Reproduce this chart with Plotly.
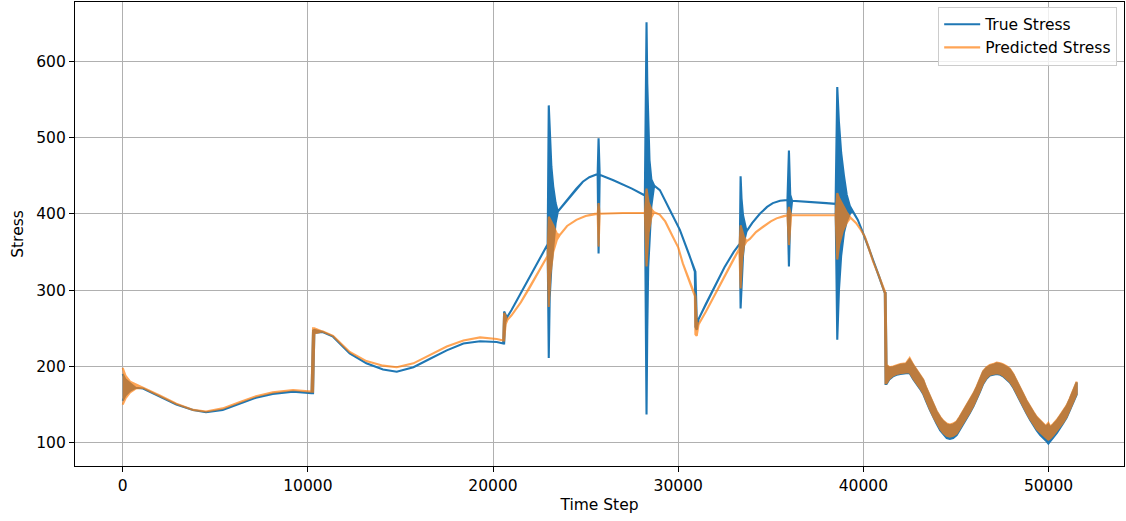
import plotly.graph_objects as go

# ---------------- data ----------------
# True stress: time step, lower envelope, upper envelope (equal where the line is a single trace)
true_step = [0, 150, 400, 700, 1100, 2000, 2900, 3800, 4500, 5400, 6300, 7200, 8100, 9200, 10200,
             10280, 10350, 10800, 11360, 12260, 13160, 14060, 14800, 15700, 16600, 17500, 18400, 19300,
             20200, 20550, 20600, 20660, 20750, 21000, 21500, 22000, 22500, 22950, 23010, 23060, 23150,
             23250, 23380, 23500, 23800, 24150, 24500, 24850, 25200, 25650, 25700, 25760, 26500, 27500,
             28200, 28290, 28330, 28380, 28450, 28550, 28700, 29010, 29300, 29550, 30090, 30630, 30900,
             30930, 31000, 31100, 31500, 32000, 32500, 33000, 33330, 33370, 33420, 33500, 33600, 33690,
             34000, 34410, 34800, 35110, 35500, 35900, 35980, 36050, 36150, 37000, 38000, 38500, 38590,
             38680, 38800, 38950, 39100, 39270, 39400, 39700, 39980, 40250, 40520, 40850, 41160, 41200,
             41250, 41400, 41600, 41800, 42000, 42300, 42500, 42700, 42870, 43050, 43230, 43400, 43590,
             43800, 43950, 44150, 44310, 44500, 44670, 44850, 45040, 45200, 45380, 45550, 45750, 45950,
             46110, 46300, 46470, 46650, 46830, 47000, 47200, 47400, 47540, 47750, 47910, 48100, 48280,
             48450, 48640, 48800, 49000, 49200, 49360, 49550, 49720, 49850, 49990, 50100, 50260, 50450,
             50620, 50800, 50980, 51150, 51340, 51450, 51520]
true_low = [155, 162, 168, 172, 171, 161, 150, 143, 140, 143, 151, 159, 164, 167, 165,
            165, 244, 245, 239, 217, 204, 196, 193, 199, 210, 221, 230, 233,
            232, 230, 230, 258, 264, 274, 296, 317, 340, 360, 211, 290, 330,
            360, 388, 403, 412, 422, 433, 442, 448, 452, 348, 451, 444, 433,
            424, 137, 248, 330, 362, 410, 437, 431, 418, 405, 379, 344, 324,
            252, 248, 262, 282, 305, 330, 350, 361, 276, 300, 345, 368, 377,
            388, 400, 409, 414, 417, 418, 331, 395, 417, 416, 414, 413, 235,
            300, 345, 375, 390, 400, 404, 392, 375, 358, 340, 318, 296, 177,
            177, 183, 187, 189, 190, 191, 191, 183, 177, 171, 164, 154, 143,
            132, 125, 116, 111, 106, 105, 106, 110, 116, 124, 131, 139, 148,
            156, 167, 177, 184, 188, 189, 190, 189, 187, 183, 179, 172, 164,
            156, 147, 139, 130, 122, 116, 110, 106, 103, 99, 102, 107, 113,
            119, 126, 133, 141, 152, 159, 163]
true_high = [190, 183, 178, 172, 171, 161, 150, 143, 140, 143, 151, 159, 164, 167, 165,
             247, 248, 245, 239, 217, 204, 196, 193, 199, 210, 221, 230, 233,
             232, 230, 272, 268, 264, 274, 296, 317, 340, 360, 542, 510, 462,
             436, 414, 403, 412, 422, 433, 442, 448, 452, 499, 451, 444, 433,
             424, 651, 571, 519, 470, 445, 437, 431, 418, 405, 379, 344, 324,
             324, 262, 262, 282, 305, 330, 350, 361, 449, 420, 398, 385, 377,
             388, 400, 409, 414, 417, 418, 483, 425, 417, 416, 414, 413, 566,
             520, 480, 450, 425, 410, 404, 392, 375, 358, 340, 318, 296, 296,
             201, 198, 199, 201, 202, 203, 209, 201, 195, 189, 182, 171, 160,
             149, 141, 133, 128, 124, 123, 124, 127, 133, 140, 147, 155, 164,
             172, 183, 193, 198, 201, 202, 204, 203, 202, 199, 196, 189, 181,
             172, 163, 155, 146, 139, 133, 128, 124, 121, 124, 120, 124, 129,
             135, 141, 148, 157, 168, 176, 179]

# Predicted stress: time step, lower envelope, upper envelope
pred_step = [0, 150, 400, 700, 1100, 2000, 2900, 3800, 4500, 5400, 6300, 7200, 8100, 9200, 10200,
             10280, 10350, 10800, 11360, 12260, 13160, 14060, 14800, 15700, 16600, 17500, 18400, 19300,
             20200, 20550, 20600, 20680, 20780, 21000, 21500, 22000, 22500, 22950, 23010, 23100, 23250,
             23450, 23600, 24000, 24500, 25000, 25500, 25650, 25700, 25760, 27000, 28200, 28290, 28400,
             28550, 28700, 29000, 29300, 29710, 30000, 30250, 30550, 30790, 30900, 30930, 31000, 31100,
             31500, 32000, 32250, 32500, 32790, 33000, 33300, 33370, 33450, 33550, 33700, 33870, 34200,
             34570, 35000, 35310, 35700, 35900, 35980, 36100, 38500, 38590, 38700, 38900, 39100, 39300,
             39600, 39810, 40080, 40300, 40520, 40850, 41160, 41200,
             41250, 41400, 41600, 41800, 42000, 42300, 42500, 42700, 42870, 43050, 43230, 43400, 43590,
             43800, 43950, 44150, 44310, 44500, 44670, 44850, 45040, 45200, 45380, 45550, 45750, 45950,
             46110, 46300, 46470, 46650, 46830, 47000, 47200, 47400, 47540, 47750, 47910, 48100, 48280,
             48450, 48640, 48800, 49000, 49200, 49360, 49550, 49720, 49850, 49990, 50100, 50260, 50450,
             50620, 50800, 50980, 51150, 51340, 51450, 51520]
pred_low = [150, 158, 166, 171, 172, 162, 151, 143, 141, 145, 153, 161, 166, 169, 167,
            167, 243, 246, 240, 219, 207, 201, 199, 204, 215, 226, 234, 238,
            236, 234, 234, 255, 261, 267, 284, 304, 326, 345, 278, 320, 350,
            366, 372, 384, 392, 397, 400, 400, 357, 400, 401, 401, 331, 375,
            395, 402, 399, 390, 370, 356, 335, 315, 300, 292, 242, 240, 255,
            272, 295, 307, 319, 331, 341, 354, 302, 340, 358, 364, 367, 376,
            383, 390, 394, 397, 398, 359, 398, 398, 340, 360, 378, 388, 395,
            388, 381, 370, 355, 338, 318, 296, 178,
            178, 184, 188, 190, 191, 192, 192, 184, 178, 172, 165, 155, 144,
            133, 126, 118, 113, 109, 108, 109, 112, 118, 125, 132, 140, 149,
            157, 168, 178, 185, 189, 190, 191, 190, 188, 184, 180, 173, 165,
            157, 148, 140, 131, 124, 118, 113, 110, 107, 104, 106, 110, 115,
            121, 127, 134, 142, 153, 160, 164]
pred_high = [198, 188, 180, 177, 172, 162, 151, 143, 141, 145, 153, 161, 166, 169, 167,
             250, 250, 246, 240, 219, 207, 201, 199, 204, 215, 226, 234, 238,
             236, 234, 270, 265, 261, 267, 284, 304, 326, 345, 396, 392, 385,
             374, 372, 384, 392, 397, 400, 400, 414, 400, 401, 401, 433, 415,
             406, 402, 399, 390, 370, 356, 335, 315, 300, 292, 292, 258, 255,
             272, 295, 307, 319, 331, 341, 354, 385, 378, 370, 364, 367, 376,
             383, 390, 394, 397, 398, 409, 398, 398, 427, 420, 410, 402, 395,
             388, 381, 370, 355, 338, 318, 296, 296,
             202, 199, 200, 202, 203, 204, 211, 202, 196, 190, 183, 172, 161,
             150, 142, 134, 129, 125, 124, 125, 128, 134, 141, 148, 156, 165,
             173, 184, 194, 199, 202, 203, 205, 204, 203, 200, 197, 190, 182,
             173, 164, 156, 147, 140, 134, 129, 125, 122, 126, 121, 125, 130,
             136, 142, 149, 158, 169, 177, 180]

x_ticks = [0, 10000, 20000, 30000, 40000, 50000]
y_ticks = [100, 200, 300, 400, 500, 600]

BLUE = "#1f77b4"
ORANGE = "#ff7f0e"
FONT = "DejaVu Sans"
FS = 15.5
LW = 2.1


def band_trace(xs, lo, hi, color, opacity):
    # outline runs along the upper envelope and back along the lower one
    return go.Scatter(
        x=list(xs) + list(xs[::-1]),
        y=list(hi) + list(lo[::-1]),
        mode="lines",
        fill="toself",
        fillcolor=color,
        line=dict(color=color, width=LW),
        opacity=opacity,
        showlegend=False,
        hoverinfo="skip",
    )


fig = go.Figure()
fig.add_trace(band_trace(true_step, true_low, true_high, BLUE, 1.0))
fig.add_trace(band_trace(pred_step, pred_low, pred_high, ORANGE, 0.7))
# legend entries (line samples)
fig.add_trace(go.Scatter(x=[None], y=[None], mode="lines", name="True Stress",
                         legendgroup="a", line=dict(color=BLUE, width=LW)))
fig.add_trace(go.Scatter(x=[None], y=[None], mode="lines", name="Predicted Stress",
                         legendgroup="b", line=dict(color=ORANGE, width=LW), opacity=0.7))

axis_common = dict(
    showgrid=True, gridcolor="#b0b0b0", gridwidth=1.1,
    showline=True, mirror=True, linecolor="black", linewidth=1.1,
    ticks="outside", ticklen=5, tickcolor="black", tickwidth=1.1,
    zeroline=False, tickfont=dict(family=FONT, size=FS, color="black"),
)

fig.update_layout(
    width=1126, height=521,
    margin=dict(l=75, r=2, t=2, b=55),
    paper_bgcolor="white", plot_bgcolor="white",
    font=dict(family=FONT, size=FS, color="black"),
    xaxis=dict(range=[-2575, 54075], tickvals=x_ticks, tickformat="d",
               title=dict(text="Time Step", font=dict(family=FONT, size=FS), standoff=5),
               **axis_common),
    yaxis=dict(range=[69.5, 677.5], tickvals=y_ticks, tickformat="d",
               title=dict(text="Stress", font=dict(family=FONT, size=FS), standoff=8),
               **axis_common),
    legend=dict(x=0.9935, y=0.99, xanchor="right", yanchor="top",
                bgcolor="rgba(255,255,255,0.8)", bordercolor="#cccccc", borderwidth=1,
                font=dict(family=FONT, size=FS), tracegroupgap=0, itemwidth=36),
)

fig.write_html("out.html", config={"displayModeBar": False},
               post_script="document.body.style.margin='0px';")
